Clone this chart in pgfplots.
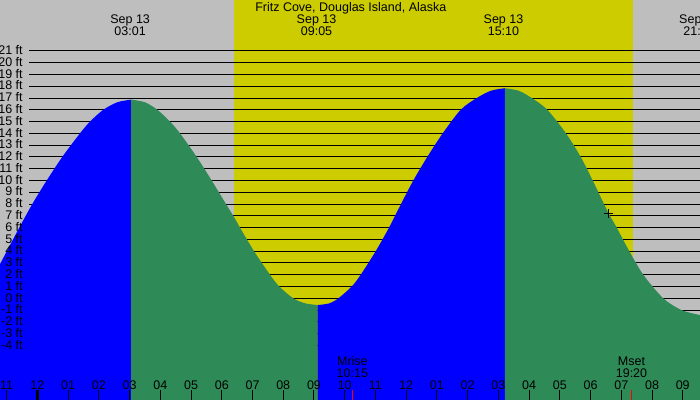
\documentclass[border=0pt]{standalone}
\usepackage{pgfplots}
\pgfplotsset{compat=1.18}
\usepackage{pgfplotstable}
\usepackage{fontspec}
\setmainfont{Liberation Sans}
\definecolor{bggray}{RGB}{190,190,190}
\definecolor{daycol}{RGB}{204,204,0}
\definecolor{tidegreen}{RGB}{46,139,87}
\newcommand\tf{\fontsize{12.5bp}{14bp}\selectfont}

% tide height (ft) vs hours after midnight Sep 13, one table per rising/falling stretch
\pgfplotstableread{
h v
-1.217 2.9
-0.589 6
-0.166 8
0.303 10
0.810 12
1.386 14
1.712 15
2.144 16
2.6 16.64
3.05 16.86
}\riseA
\pgfplotstableread{
h v
3.05 16.86
3.5 16.64
3.902 16
4.315 15
4.641 14
5.184 12
5.672 10
6.137 8
6.375 7
6.593 6
7.049 4
7.570 2
7.872 1
8.327 0
8.72 -0.43
9.12 -0.57
}\fallA
\pgfplotstableread{
h v
9.12 -0.57
9.5 -0.43
9.792 0
10.228 1
10.52 2
11.009 4
11.442 6
11.832 8
12.232 10
12.688 12
13.189 14
13.775 16
14.296 17
14.76 17.62
15.21 17.83
}\riseB
\pgfplotstableread{
h v
15.21 17.83
15.66 17.62
16.085 17
16.593 16
17.201 14
17.680 12
18.070 10
18.438 8
18.633 7
18.851 6
19.261 4
19.717 2
20.368 0
20.966 -1
21.562 -1.42
}\fallB

\begin{document}
\tf
\begin{tikzpicture}
\begin{axis}[
  scale only axis, width=700bp, height=400bp,
  xmin=-1.217, xmax=21.562, ymin=-8.63, ymax=25.32,
  axis lines=none, ticks=none,
  every node/.append style={inner sep=0pt, font=\tf},
]
% backgrounds
\addplot[fill=bggray, draw=none] coordinates {(-1.217,-8.63) (-1.217,25.32) (21.562,25.32) (21.562,-8.63)};
\addplot[fill=daycol, draw=none] coordinates {(6.40,-8.63) (6.40,25.32) (19.39,25.32) (19.39,-8.63)};
% grid lines
\pgfplotsinvokeforeach{-4,...,21}{
  \addplot[black, line width=1bp] coordinates {(-0.264,#1) (21.562,#1)};
}
% tide areas
\addplot[fill=blue, draw=none, smooth] table {\riseA} -- (axis cs:3.05,-8.63) -- (axis cs:-1.217,-8.63) -- cycle;
\addplot[fill=tidegreen, draw=none, smooth] table {\fallA} -- (axis cs:9.12,-8.63) -- (axis cs:3.05,-8.63) -- cycle;
\addplot[fill=blue, draw=none, smooth] table {\riseB} -- (axis cs:15.21,-8.63) -- (axis cs:9.12,-8.63) -- cycle;
\addplot[fill=tidegreen, draw=none, smooth] table {\fallB} -- (axis cs:21.562,-8.63) -- (axis cs:15.21,-8.63) -- cycle;
% ft labels
\pgfplotsinvokeforeach{-4,...,21}{
  \node[anchor=base east, yshift=-3.7bp] at (axis cs:-0.338,#1) {#1 ft};
}
% title and tide labels
\node[anchor=base] at (axis cs:10.198,24.33) {Fritz Cove, Douglas Island, Alaska};
\node[anchor=base] at (axis cs:3.017,23.29) {Sep 13};
\node[anchor=base] at (axis cs:3.017,22.27) {03:01};
\node[anchor=base] at (axis cs:9.083,23.29) {Sep 13};
\node[anchor=base] at (axis cs:9.083,22.27) {09:05};
\node[anchor=base] at (axis cs:15.167,23.29) {Sep 13};
\node[anchor=base] at (axis cs:15.167,22.27) {15:10};
\node[anchor=base, overlay] at (axis cs:21.53,23.29) {Sep 13};
\node[anchor=base, overlay] at (axis cs:21.53,22.27) {21:32};
% moon
\node[anchor=base] at (axis cs:10.25,-5.72) {Mrise};
\node[anchor=base] at (axis cs:10.25,-6.71) {10:15};
\node[anchor=base] at (axis cs:19.333,-5.72) {Mset};
\node[anchor=base] at (axis cs:19.333,-6.71) {19:20};
\addplot[red, line width=1bp] coordinates {(10.25,-8.63) (10.25,-7.78)};
\addplot[red, line width=1bp] coordinates {(19.333,-8.63) (19.333,-7.78)};
% hour ticks
\pgfplotsinvokeforeach{-1,1,2,3,4,5,6,7,8,9,10,11,12,13,14,15,16,17,18,19,20,21}{
  \addplot[black, line width=1bp] coordinates {(#1,-8.63) (#1,-7.78)};
}
\addplot[black, line width=3bp] coordinates {(0,-8.63) (0,-7.78)};
\node[anchor=base, overlay] at (axis cs:-1,-7.76) {11};
\node[anchor=base] at (axis cs:0,-7.76) {12};
\node[anchor=base] at (axis cs:1,-7.76) {01};
\node[anchor=base] at (axis cs:2,-7.76) {02};
\node[anchor=base] at (axis cs:3,-7.76) {03};
\node[anchor=base] at (axis cs:4,-7.76) {04};
\node[anchor=base] at (axis cs:5,-7.76) {05};
\node[anchor=base] at (axis cs:6,-7.76) {06};
\node[anchor=base] at (axis cs:7,-7.76) {07};
\node[anchor=base] at (axis cs:8,-7.76) {08};
\node[anchor=base] at (axis cs:9,-7.76) {09};
\node[anchor=base] at (axis cs:10,-7.76) {10};
\node[anchor=base] at (axis cs:11,-7.76) {11};
\node[anchor=base] at (axis cs:12,-7.76) {12};
\node[anchor=base] at (axis cs:13,-7.76) {01};
\node[anchor=base] at (axis cs:14,-7.76) {02};
\node[anchor=base] at (axis cs:15,-7.76) {03};
\node[anchor=base] at (axis cs:16,-7.76) {04};
\node[anchor=base] at (axis cs:17,-7.76) {05};
\node[anchor=base] at (axis cs:18,-7.76) {06};
\node[anchor=base] at (axis cs:19,-7.76) {07};
\node[anchor=base] at (axis cs:20,-7.76) {08};
\node[anchor=base] at (axis cs:21,-7.76) {09};
% current time marker
\addplot[only marks, mark=+, mark size=4.5bp, black, line width=1bp] coordinates {(18.6,7.19)};
\end{axis}
\end{tikzpicture}
\end{document}
